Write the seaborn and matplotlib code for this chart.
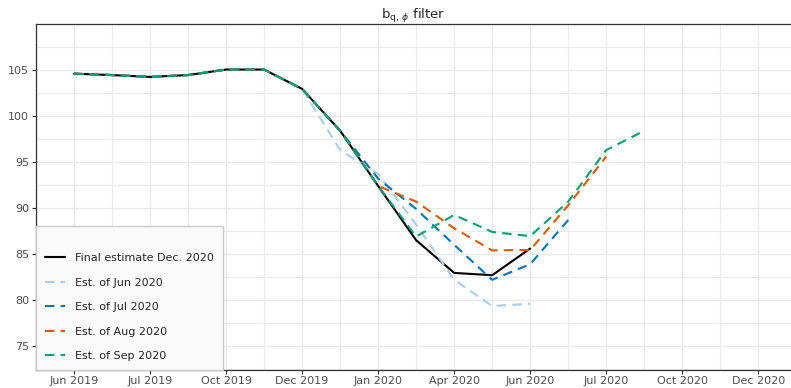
import numpy as np
import pandas as pd
import matplotlib
matplotlib.use("Agg")
import matplotlib.pyplot as plt
import seaborn as sns

# month index 0 = first observation
common = [104.6, 104.45, 104.25, 104.45, 105.05, 105.05, 102.95]

final_dec = common + [98.4, 92.4, 86.5, 82.95, 82.7, 85.6]
est_jun = common + [96.3, 93.7, 88.2, 82.2, 79.35, 79.6]
est_jul = common + [98.4, 93.2, 89.9, 86.0, 82.2, 83.9, 88.7]
est_aug = common + [98.4, 92.4, 90.7, 87.8, 85.4, 85.45, 90.3, 95.6]
est_sep = common + [98.4, 92.4, 86.9, 89.25, 87.4, 86.95, 90.7, 96.3, 98.4]

series_names = ["Final estimate Dec. 2020", "Est. of Jun 2020", "Est. of Jul 2020",
                "Est. of Aug 2020", "Est. of Sep 2020"]
series_values = [final_dec, est_jun, est_jul, est_aug, est_sep]
colors = ["black", "#a9cde8", "#0072B2", "#D55E00", "#009E73"]

tick_pos = list(range(0, 19, 2))
tick_labels = ["Jun 2019", "Jul 2019", "Oct 2019", "Dec 2019", "Jan 2020",
               "Apr 2020", "Jun 2020", "Jul 2020", "Oct 2020", "Dec 2020"]

rows = []
for name, vals in zip(series_names, series_values):
    for i, v in enumerate(vals):
        rows.append({"month": i, "value": v, "series": name})
df = pd.DataFrame(rows)

sns.set_theme(style="whitegrid")
plt.rcParams["font.family"] = ["DejaVu Sans"]

fig = plt.figure(figsize=(7.91, 3.88), dpi=100)
ax = fig.add_axes([36 / 791, 18 / 388, 1 - 36 / 791, (370 - 24) / 388])

dashes = {n: "" if n.startswith("Final") else (4.5, 3) for n in series_names}
sns.lineplot(data=df, x="month", y="value", hue="series", style="series",
             hue_order=series_names, style_order=series_names,
             palette=dict(zip(series_names, colors)), dashes=dashes,
             linewidth=1.5, ax=ax)

ax.set_xlim(-0.89, 18.86)
ax.set_ylim(72.4, 110)
ax.set_xticks(tick_pos)
ax.set_xticklabels(tick_labels)
ax.set_xticks(np.arange(-1, 19, 2), minor=True)
ax.set_yticks([75, 80, 85, 90, 95, 100, 105])
ax.set_yticks(np.arange(72.5, 110, 5), minor=True)
ax.grid(True, which="major", color="#ebebeb", linewidth=1.0)
ax.grid(True, which="minor", color="#ebebeb", linewidth=0.8)
ax.set_axisbelow(True)
ax.set_xlabel("")
ax.set_ylabel("")

for s in ["left", "bottom", "top"]:
    ax.spines[s].set_visible(True)
    ax.spines[s].set_color("#333333")
    ax.spines[s].set_linewidth(0.9)
ax.spines["right"].set_visible(False)

ax.tick_params(axis="both", which="major", bottom=True, left=True, length=3,
               width=0.8, color="#333333", labelsize=8, labelcolor="#4d4d4d", pad=1.5)
ax.tick_params(axis="both", which="minor", length=0)
ax.tick_params(axis="y", pad=2)

ax.set_title(r"$\mathrm{b}_{\mathrm{q},\,\phi}$ filter", fontsize=9.5, pad=4)

leg = ax.legend(loc="lower left", bbox_to_anchor=(0, 0), frameon=True,
                fontsize=8, handlelength=1.8, handletextpad=0.9,
                labelspacing=1.3, borderpad=0.8, borderaxespad=0, fancybox=False,
                title=" ", title_fontsize=3)
leg.get_frame().set_facecolor("#fafafa")
leg.get_frame().set_edgecolor("#cccccc")
leg.get_frame().set_alpha(1)

fig.savefig("out.png", dpi=100)
